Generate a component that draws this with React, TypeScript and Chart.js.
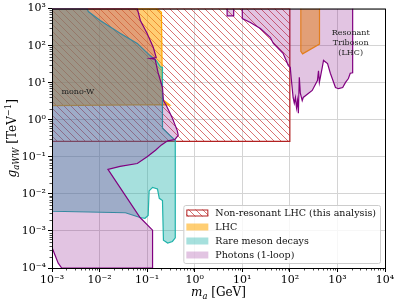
import React, { useEffect, useRef } from 'react';
import { Chart, registerables } from 'chart.js';

Chart.register(...registerables);

type Pt = [number, number];

const SERIF = '"DejaVu Serif", serif';

// ---- axes ----
const X_MIN = 1e-3;
const X_MAX = 1e4;
const Y_MIN = 1e-4;
const Y_MAX = 1e3;
const X_TICK_VALUES = [1e-3, 1e-2, 1e-1, 1, 1e1, 1e2, 1e3, 1e4];
const X_TICK_LABELS = ['10⁻³', '10⁻²', '10⁻¹', '10⁰', '10¹', '10²', '10³', '10⁴'];
const Y_TICK_VALUES = [1e-4, 1e-3, 1e-2, 1e-1, 1, 1e1, 1e2, 1e3];
const Y_TICK_LABELS = ['10⁻⁴', '10⁻³', '10⁻²', '10⁻¹', '10⁰', '10¹', '10²', '10³'];
const MINOR_MULTIPLIERS = [2, 3, 4, 5, 6, 7, 8, 9];

// ---- regions (m_a [GeV], g_aWW [TeV^-1]) ----
const nonResonantLHC: Pt[] = [
  [1e-3, 0.26], [1e-3, 1000], [100, 1000], [100, 0.26], [1e-3, 0.26],
];

const lhcLowMass: Pt[] = [
  [1e-3, 2.4], [1e-3, 1000], [0.16, 1000], [0.2, 800], [0.21, 3.6],
  [0.3, 2.5], [0.21, 2.55], [1e-3, 2.4],
];

const lhcTriboson: Pt[] = [
  [170, 1000], [170, 70], [185, 60], [420, 110], [420, 1000],
];

const rareMeson: Pt[] = [
  [1e-3, 1000], [5.5e-3, 1000], [5.8e-3, 830], [0.0103, 480], [0.027, 215],
  [0.062, 115], [0.115, 54], [0.155, 40], [0.19, 27], [0.21, 26],
  [0.21, 0.59], [0.3, 0.38], [0.39, 0.28], [0.39, 6.5e-4], [0.34, 5.2e-4],
  [0.27, 4.7e-4], [0.22, 5.6e-4], [0.21, 6.6e-3], [0.18, 7.6e-3],
  [0.165, 0.0135], [0.13, 0.015], [0.11, 0.012], [0.105, 2.6e-3],
  [0.09, 2.2e-3], [0.071, 2.3e-3], [0.035, 3.1e-3], [1e-3, 3.4e-3],
  [1e-3, 1000],
];

const photonsMain: Pt[] = [
  [1e-3, 1000], [0.062, 1000], [0.072, 480], [0.1, 214], [0.135, 89],
  [0.155, 48], [0.115, 45], [0.147, 43], [0.17, 18.6], [0.21, 7.4],
  [0.22, 3.3], [0.25, 2.5], [0.34, 1.1], [0.43, 0.51], [0.45, 0.38],
  [0.38, 0.29], [0.27, 0.27], [0.2, 0.21], [0.15, 0.15], [0.1, 0.1],
  [0.062, 0.066], [0.027, 0.055], [0.015, 0.046], [0.071, 2.3e-3],
  [0.13, 1.05e-3], [0.13, 1e-4], [1.6e-3, 1e-4], [1.35e-3, 1.35e-4],
  [1.16e-3, 2.2e-4], [1e-3, 3.6e-4], [1e-3, 1000],
];

const photonsNotch: Pt[] = [
  [4.8, 1000], [4.8, 640], [6.6, 640], [6.6, 1000],
];

const photonsTriboson: Pt[] = [
  [10, 1000], [10, 540], [14.8, 420], [24, 290], [39, 166], [45, 115],
  [72, 62], [93, 29], [102, 26], [107, 13], [117, 4.0], [124, 2.8],
  [131, 4.0], [138, 2.1], [145, 3.3], [151, 1.5], [158, 14], [166, 5.2],
  [182, 3.3], [191, 4.0], [295, 6.2], [380, 11.5], [400, 21], [417, 10.2],
  [480, 26], [510, 40], [620, 33], [710, 18], [910, 7.4], [1050, 6.9],
  [1290, 7.4], [1480, 10.2], [1700, 13], [1860, 18], [2090, 18.6],
  [2090, 1000],
];

// ---- annotations ----
const MONO_W_TEXT = 'mono-W';
const MONO_W_POS: Pt = [3.5e-3, 5.8];
const TRIBOSON_TEXT = ['Resonant', 'Triboson', '(LHC)'];
const TRIBOSON_POS: Pt[] = [[1900, 214], [1900, 115], [1900, 65]];

// ---- legend labels ----
const LEGEND_LABELS = [
  'Non-resonant LHC (this analysis)',
  'LHC',
  'Rare meson decays',
  'Photons (1-loop)',
];

// ---- colours ----
const HATCH_COLOR = 'rgba(200,45,45,0.75)';
const HATCH_EDGE = '#b22222';
const ORANGE_EDGE = '#ffa500';
const ORANGE_FILL = 'rgba(255,165,0,0.55)';
const TEAL_EDGE = '#20b2aa';
const TEAL_FILL = 'rgba(32,178,170,0.4)';
const PURPLE_EDGE = '#800080';
const PURPLE_FILL = 'rgba(128,0,128,0.23)';

function makeHatch(): CanvasPattern | string {
  const c = document.createElement('canvas');
  const s = 7;
  c.width = s;
  c.height = s;
  const g = c.getContext('2d');
  if (!g) return HATCH_COLOR;
  g.strokeStyle = HATCH_COLOR;
  g.lineWidth = 0.9;
  g.beginPath();
  g.moveTo(0, 0); g.lineTo(s, s);
  g.moveTo(-1, s - 1); g.lineTo(1, s + 1);
  g.moveTo(s - 1, -1); g.lineTo(s + 1, 1);
  g.stroke();
  const p = g.createPattern(c, 'repeat');
  return p || HATCH_COLOR;
}

type Seg = { t: string; italic?: boolean; sub?: boolean; sup?: boolean };

function drawRich(ctx: CanvasRenderingContext2D, segs: Seg[], size: number, cx: number, baseY: number) {
  const fontFor = (s: Seg) => `${s.italic ? 'italic ' : ''}${s.sub || s.sup ? size * 0.7 : size}px ${SERIF}`;
  let w = 0;
  for (const s of segs) {
    ctx.font = fontFor(s);
    w += ctx.measureText(s.t).width;
  }
  let x = cx - w / 2;
  ctx.textAlign = 'left';
  ctx.textBaseline = 'alphabetic';
  for (const s of segs) {
    ctx.font = fontFor(s);
    const dy = s.sub ? size * 0.22 : s.sup ? -size * 0.42 : 0;
    ctx.fillText(s.t, x, baseY + dy);
    x += ctx.measureText(s.t).width;
  }
}

function poly(label: string, pts: Pt[], border: string, bg: any, order: number, bw = 1.2) {
  return {
    label,
    data: pts.map(([x, y]) => ({ x, y })),
    showLine: true,
    fill: 'shape',
    borderColor: border,
    backgroundColor: bg,
    borderWidth: bw,
    pointRadius: 0,
    pointHoverRadius: 0,
    tension: 0,
    order,
    clip: 0,
  };
}

export default function App() {
  const ref = useRef<HTMLCanvasElement | null>(null);

  useEffect(() => {
    document.body.style.margin = '0';
    const canvas = ref.current;
    if (!canvas) return;
    const hatch = makeHatch();

    const overlayPlugin = {
      id: 'overlay',
      afterDatasetsDraw(chart: any) {
        const { ctx, chartArea: a, scales } = chart;
        const xs = scales.x;
        const ys = scales.y;
        ctx.save();
        // minor ticks
        ctx.strokeStyle = '#000';
        ctx.lineWidth = 0.7;
        ctx.beginPath();
        for (const d of X_TICK_VALUES.slice(0, -1)) {
          for (const m of MINOR_MULTIPLIERS) {
            const px = Math.round(xs.getPixelForValue(m * d)) + 0.5;
            ctx.moveTo(px, a.bottom);
            ctx.lineTo(px, a.bottom + 2.5);
          }
        }
        for (const d of Y_TICK_VALUES.slice(0, -1)) {
          for (const m of MINOR_MULTIPLIERS) {
            const py = Math.round(ys.getPixelForValue(m * d)) + 0.5;
            ctx.moveTo(a.left, py);
            ctx.lineTo(a.left - 2.5, py);
          }
        }
        ctx.stroke();
        // frame
        ctx.lineWidth = 1;
        ctx.strokeStyle = '#000';
        ctx.strokeRect(a.left + 0.5, a.top + 0.5, a.right - a.left, a.bottom - a.top);

        // annotations
        ctx.fillStyle = '#222';
        ctx.textAlign = 'center';
        ctx.textBaseline = 'middle';
        ctx.font = `8px ${SERIF}`;
        ctx.fillText(MONO_W_TEXT, xs.getPixelForValue(MONO_W_POS[0]), ys.getPixelForValue(MONO_W_POS[1]));
        TRIBOSON_TEXT.forEach((t, i) => {
          ctx.fillText(t, xs.getPixelForValue(TRIBOSON_POS[i][0]), ys.getPixelForValue(TRIBOSON_POS[i][1]));
        });

        // axis titles
        ctx.fillStyle = '#000';
        drawRich(ctx, [
          { t: 'm', italic: true }, { t: 'a', italic: true, sub: true }, { t: ' [GeV]' },
        ], 12, (a.left + a.right) / 2, 296);
        ctx.save();
        ctx.translate(16, (a.top + a.bottom) / 2);
        ctx.rotate(-Math.PI / 2);
        drawRich(ctx, [
          { t: 'g', italic: true }, { t: 'aWW', italic: true, sub: true }, { t: ' [TeV' },
          { t: '−1', sup: true }, { t: ']' },
        ], 12, 0, 0);
        ctx.restore();
        ctx.restore();
      },
      afterDraw(chart: any) {
        const { ctx, chartArea: a } = chart;
        ctx.save();
        const fontSize = 9.5;
        ctx.font = `${fontSize}px ${SERIF}`;
        const maxW = Math.max(...LEGEND_LABELS.map((l) => ctx.measureText(l).width));
        const swW = 22;
        const swH = 7;
        const rowH = 14;
        const w = 3 + swW + 7 + maxW + 4;
        const h = LEGEND_LABELS.length * rowH + 2;
        const x0 = a.right - 5 - w;
        const y0 = a.bottom - 5 - h;
        ctx.beginPath();
        if ((ctx as any).roundRect) (ctx as any).roundRect(x0 + 0.5, y0 + 0.5, w, h, 2);
        else ctx.rect(x0 + 0.5, y0 + 0.5, w, h);
        ctx.fillStyle = 'rgba(255,255,255,0.8)';
        ctx.fill();
        ctx.strokeStyle = '#cccccc';
        ctx.lineWidth = 1;
        ctx.stroke();
        const fills = [hatch, ORANGE_FILL, TEAL_FILL, PURPLE_FILL];
        LEGEND_LABELS.forEach((label, i) => {
          const cy = y0 + 1 + rowH * i + rowH / 2;
          const sx = x0 + 3;
          const sy = cy - swH / 2;
          if (i === 0) {
            ctx.fillStyle = '#fff';
            ctx.fillRect(sx, sy, swW, swH);
          }
          ctx.fillStyle = fills[i] as any;
          ctx.fillRect(sx, sy, swW, swH);
          if (i === 0) {
            ctx.strokeStyle = HATCH_EDGE;
            ctx.lineWidth = 1;
            ctx.strokeRect(sx + 0.5, sy + 0.5, swW - 1, swH - 1);
          }
          ctx.fillStyle = '#111';
          ctx.textAlign = 'left';
          ctx.textBaseline = 'middle';
          ctx.font = `${fontSize}px ${SERIF}`;
          ctx.fillText(label, sx + swW + 7, cy + 0.5);
        });
        ctx.restore();
      },
    };

    const tickFont = { family: SERIF, size: 11 };

    const chart = new Chart(canvas, {
      type: 'scatter',
      data: {
        datasets: [
          poly(LEGEND_LABELS[3], photonsMain, PURPLE_EDGE, PURPLE_FILL, 1),
          poly(LEGEND_LABELS[3], photonsNotch, PURPLE_EDGE, PURPLE_FILL, 1),
          poly(LEGEND_LABELS[3], photonsTriboson, PURPLE_EDGE, PURPLE_FILL, 1),
          poly(LEGEND_LABELS[2], rareMeson, TEAL_EDGE, TEAL_FILL, 2),
          poly(LEGEND_LABELS[1], lhcLowMass, ORANGE_EDGE, ORANGE_FILL, 3),
          poly(LEGEND_LABELS[1], lhcTriboson, ORANGE_EDGE, ORANGE_FILL, 3),
          poly(LEGEND_LABELS[0], nonResonantLHC, HATCH_EDGE, hatch, 4, 1.2),
        ] as any,
      },
      options: {
        responsive: false,
        animation: false,
        devicePixelRatio: 1,
        events: [],
        layout: { padding: { top: 8, right: 14, left: 0, bottom: 0 } },
        plugins: { legend: { display: false }, tooltip: { enabled: false } },
        scales: {
          x: {
            type: 'logarithmic',
            min: X_MIN,
            max: X_MAX,
            position: 'bottom',
            afterBuildTicks: (s: any) => { s.ticks = X_TICK_VALUES.map((v) => ({ value: v })); },
            afterFit: (s: any) => { s.height = 34; },
            ticks: {
              callback: (_v: any, i: number) => X_TICK_LABELS[i],
              autoSkip: false,
              maxRotation: 0,
              minRotation: 0,
              padding: 2,
              color: '#000',
              font: tickFont,
            },
            grid: { color: '#d4d4d4', lineWidth: 1, tickLength: 4, tickColor: '#000', drawTicks: true },
            border: { display: false },
          },
          y: {
            type: 'logarithmic',
            min: Y_MIN,
            max: Y_MAX,
            position: 'left',
            afterBuildTicks: (s: any) => { s.ticks = Y_TICK_VALUES.map((v) => ({ value: v })); },
            afterFit: (s: any) => { s.width = 52; },
            ticks: {
              callback: (_v: any, i: number) => Y_TICK_LABELS[i],
              autoSkip: false,
              padding: 2,
              color: '#000',
              font: tickFont,
            },
            grid: { color: '#d4d4d4', lineWidth: 1, tickLength: 4, tickColor: '#000', drawTicks: true },
            border: { display: false },
          },
        },
      } as any,
      plugins: [overlayPlugin],
    });

    return () => chart.destroy();
  }, []);

  return (
    <div style={{ width: 399, height: 302 }}>
      <canvas ref={ref} width={399} height={302} style={{ display: 'block' }} />
    </div>
  );
}
